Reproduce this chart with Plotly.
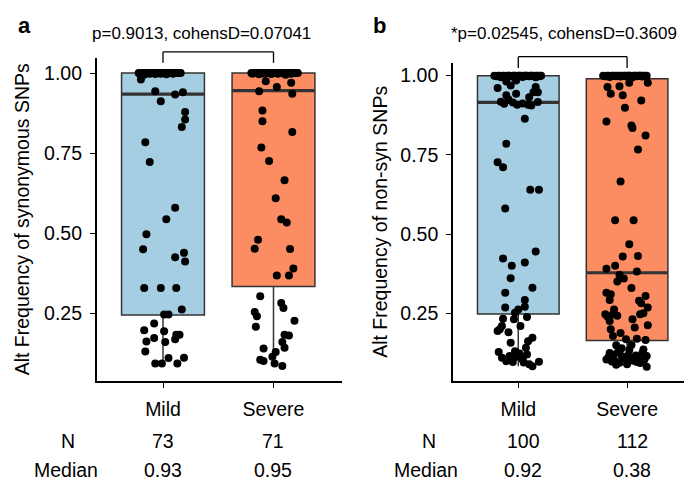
import plotly.graph_objects as go

# ---------------- data ----------------
categories = ["Mild", "Severe"]

# panel a: synonymous SNPs
a_title = "p=0.9013, cohensD=0.07041"
a_ytitle = "Alt Frequency of synonymous SNPs"
a_n = [73, 71]
a_median_label = ["0.93", "0.95"]
a_q1 = [0.244, 0.333]
a_median = [0.934, 0.945]
a_q3 = [1.0, 1.0]
a_low = [0.092, 0.084]
a_high = [1.0, 1.0]

a_mild_x = [-0.20, -0.07, -0.02, 0.11, 0.18, 0.20, 0.20, 0.17, -0.16, -0.12, 0.11, 0.03,
            -0.15, -0.18, 0.11, 0.19, 0.20, -0.17, -0.02, 0.12, 0.17, 0.01, 0.05, -0.08,
            -0.17, 0.01, 0.12, 0.15, -0.08, -0.15, 0.02, 0.11, -0.16, -0.07, -0.01, 0.05,
            0.13, 0.19,
            -0.22, -0.21, -0.19, -0.18, -0.17, -0.15, -0.14, -0.13, -0.12, -0.10, -0.09,
            -0.08, -0.07, -0.06, -0.05, -0.04, -0.03, -0.02, -0.01, 0.00, 0.01, 0.02, 0.03,
            0.04, 0.05, 0.06, 0.07, 0.08, 0.09, 0.10, 0.11, 0.12, 0.13, 0.15, 0.16]
a_mild_y = [0.980, 0.943, 0.912, 0.933, 0.940, 0.878, 0.855, 0.831, 0.784, 0.722, 0.579, 0.543,
            0.496, 0.449, 0.424, 0.438, 0.411, 0.328, 0.328, 0.328, 0.261, 0.245, 0.245, 0.217,
            0.196, 0.193, 0.182, 0.182, 0.172, 0.161, 0.159, 0.168, 0.130, 0.092, 0.092, 0.109,
            0.092, 0.110,
            1.0, 0.998, 1.0, 1.0, 0.995, 1.0, 1.0, 1.0, 0.998, 1.0, 1.0,
            1.0, 0.997, 1.0, 1.0, 1.0, 1.0, 0.998, 1.0, 1.0, 1.0, 1.0, 0.996,
            1.0, 1.0, 1.0, 1.0, 1.0, 0.998, 1.0, 1.0, 1.0, 1.0, 1.0, 1.0]

a_sev_x = [-0.07, 0.03, 0.16, -0.13, 0.17, -0.10, -0.10, 0.17, -0.11, -0.04, 0.10, 0.02,
           0.07, 0.12, -0.14, -0.17, 0.15, 0.18, 0.03, 0.14, -0.12, 0.07, 0.09, -0.17,
           -0.15, 0.19, -0.16, 0.10, 0.14, 0.08, 0.10, -0.09, 0.02, -0.01, -0.12, -0.09,
           0.01, 0.08,
           -0.20, -0.19, -0.17, -0.16, -0.14, -0.13, -0.12, -0.10, -0.09, -0.08, -0.06,
           -0.05, -0.03, -0.02, 0.00, 0.01, 0.02, 0.04, 0.05, 0.06, 0.08, 0.09, 0.11,
           0.12, 0.14, 0.15, 0.16, 0.18, 0.19, 0.20, 0.22]
a_sev_y = [0.974, 0.956, 0.970, 0.943, 0.935, 0.883, 0.849, 0.816, 0.767, 0.725, 0.665, 0.609,
           0.543, 0.533, 0.479, 0.451, 0.450, 0.389, 0.367, 0.367, 0.302, 0.281, 0.266, 0.253,
           0.240, 0.226, 0.207, 0.182, 0.180, 0.159, 0.141, 0.139, 0.128, 0.113, 0.104, 0.100,
           0.092, 0.084,
           1.0, 0.998, 1.0, 1.0, 1.0, 0.996, 1.0, 1.0, 1.0, 0.998, 1.0,
           1.0, 1.0, 0.997, 1.0, 1.0, 1.0, 0.998, 1.0, 1.0, 1.0, 1.0, 0.995,
           1.0, 1.0, 1.0, 0.998, 1.0, 1.0, 1.0, 1.0]

# panel b: non-synonymous SNPs
b_title = "*p=0.02545, cohensD=0.3609"
b_ytitle = "Alt Frequency of non-syn SNPs"
b_n = [100, 112]
b_median_label = ["0.92", "0.38"]
b_q1 = [0.248, 0.164]
b_median = [0.916, 0.378]
b_q3 = [1.0, 0.99]
b_low = [0.083, 0.081]
b_high = [1.0, 1.0]

b_mild_x = [-0.19, -0.11, -0.02, 0.16, 0.18, -0.11, -0.02, -0.09, 0.10, -0.13, -0.01, 0.09,
            0.18, 0.14, -0.07,
            0.06, -0.11, -0.19, -0.14, 0.11, 0.19, -0.12,
            0.16, -0.14, -0.06, 0.06, -0.07, 0.13, -0.12, 0.06, 0.06, -0.12,
            -0.14, -0.15, -0.03, -0.04, 0.02, -0.19, -0.17, 0.13, 0.09, -0.07, 0.07, -0.18,
            0.01, -0.02, -0.11, 0.04, -0.05, 0.10, 0.13, 0.19, -0.15, -0.08,
            -0.10, 0.05, -0.03, 0.08, -0.05, 0.04, 0.12, -0.16, 0.00, 0.08, -0.09,
            -0.22, -0.20, -0.19, -0.17, -0.16, -0.14, -0.13, -0.12, -0.10, -0.09, -0.08,
            -0.06, -0.05, -0.04, -0.03, -0.01, 0.00, 0.01, 0.02, 0.04, 0.05, 0.06, 0.07,
            0.08, 0.10, 0.11, 0.12, 0.13, 0.15, 0.16, 0.17, 0.18, 0.19, 0.20, 0.21]
b_mild_y = [0.961, 0.982, 0.985, 0.964, 0.948, 0.938, 0.943, 0.925, 0.932, 0.911, 0.908, 0.908,
            0.917, 0.948, 0.969,
            0.864, 0.785, 0.727, 0.711, 0.640, 0.640, 0.581,
            0.445, 0.423, 0.400, 0.410, 0.361, 0.331, 0.315, 0.292, 0.271, 0.268,
            0.233, 0.210, 0.252, 0.231, 0.210, 0.194, 0.200, 0.173, 0.162, 0.157, 0.141, 0.128,
            0.123, 0.113, 0.099, 0.104, 0.096, 0.089, 0.083, 0.097, 0.110, 0.115,
            0.105, 0.095, 0.130, 0.120, 0.915, 0.912, 0.906, 0.918, 0.262, 0.238, 0.190,
            1.0, 0.998, 1.0, 1.0, 0.995, 1.0, 1.0, 0.998, 1.0, 1.0, 1.0,
            0.997, 1.0, 1.0, 1.0, 0.998, 1.0, 1.0, 1.0, 0.996, 1.0, 1.0, 1.0,
            1.0, 0.998, 1.0, 1.0, 1.0, 1.0, 0.995, 1.0, 1.0, 0.998, 1.0, 1.0]

b_sev_x = [0.19, -0.18, -0.07, 0.02, -0.15, -0.04, 0.13, -0.02, -0.19, 0.04, 0.05, 0.17, 0.10,
           -0.06, -0.11, 0.06, 0.02, 0.10, -0.04, -0.19, -0.11, 0.09, -0.07, -0.03,
           -0.19, -0.16, 0.17, 0.13, 0.19, -0.20, -0.13, -0.09, -0.16, 0.12, 0.05, 0.19,
           -0.15, -0.13, -0.01, 0.09, 0.17, -0.10, 0.15, -0.16, 0.02, -0.05, -0.19, -0.11,
           0.02, 0.10, 0.18, 0.00, 0.18, -0.07, 0.09,
           -0.12, -0.03, 0.06, 0.12, -0.08, 0.14, -0.17, 0.04, -0.14, 0.08, -0.05, 0.16,
           -0.10, 0.01,
           -0.18, -0.12, 0.15, 0.07, -0.06, 0.11, -0.15, 0.04, -0.09,
           -0.22, -0.20, -0.19, -0.17, -0.16, -0.14, -0.13, -0.11, -0.10, -0.09, -0.07,
           -0.06, -0.05, -0.03, -0.02, -0.01, 0.00, 0.01, 0.02, 0.03, 0.05, 0.06, 0.07,
           0.08, 0.09, 0.10, 0.11, 0.12, 0.13, 0.14, 0.15, 0.16, 0.18, 0.19]
b_sev_y = [0.978, 0.964, 0.967, 0.978, 0.943, 0.938, 0.922, 0.899, 0.855, 0.843, 0.835, 0.811, 0.767,
           0.666, 0.544, 0.544, 0.468, 0.431, 0.429, 0.391, 0.400, 0.382, 0.372, 0.360,
           0.315, 0.292, 0.305, 0.282, 0.268, 0.247, 0.247, 0.242, 0.226, 0.247, 0.231, 0.212,
           0.200, 0.178, 0.168, 0.170, 0.166, 0.149, 0.136, 0.125, 0.134, 0.115, 0.104, 0.099,
           0.104, 0.110, 0.115, 0.089, 0.081, 0.094, 0.096,
           0.120, 0.108, 0.100, 0.093, 0.130, 0.125, 0.112, 0.150, 0.098, 0.117, 0.140, 0.104,
           0.088, 0.118,
           0.240, 0.262, 0.250, 0.205, 0.188, 0.290, 0.310, 0.330, 0.350,
           1.0, 0.998, 1.0, 1.0, 0.996, 1.0, 1.0, 1.0, 0.998, 1.0, 1.0,
           0.997, 1.0, 1.0, 1.0, 0.998, 1.0, 1.0, 1.0, 1.0, 0.995, 1.0, 1.0,
           1.0, 0.998, 1.0, 1.0, 1.0, 1.0, 0.997, 1.0, 1.0, 1.0]

ytick_vals = [0.25, 0.50, 0.75, 1.00]
ytick_text = ["0.25", "0.50", "0.75", "1.00"]

# ---------------- style ----------------
FONT = "Liberation Sans, Arial, sans-serif"
FS = 19.5
FILL = ["#a6cee3", "#fc8d62"]
EDGE = "#333333"
BOXW = 0.75
W, H = 684, 482

def px_x(p):
    return p / W

def px_y(p):
    return 1 - p / H

panels = [
    dict(xa="x", ya="y", xdom=[px_x(96.7), px_x(342)], ydom=[px_y(380.7), px_y(58)],
         xr=[-0.6, 1.62], yr=[0.0384, 1.047],
         q1=a_q1, med=a_median, q3=a_q3, lo=a_low, hi=a_high,
         pts=[(a_mild_x, a_mild_y), (a_sev_x, a_sev_y)],
         title=a_title, ytitle=a_ytitle, n=a_n, medlab=a_median_label,
         letter="a", letter_x=px_x(24), title_x=px_x(90), ytitle_x=px_x(22),
         nlab_x=px_x(68), medlab_x=px_x(66), tshift=0,
         br_top=1.066, br_tip=1.032),
    dict(xa="x2", ya="y2", xdom=[px_x(453), 1.0], ydom=[px_y(380.7), px_y(63)],
         xr=[-0.6, 1.523], yr=[0.0373, 1.040],
         q1=b_q1, med=b_median, q3=b_q3, lo=b_low, hi=b_high,
         pts=[(b_mild_x, b_mild_y), (b_sev_x, b_sev_y)],
         title=b_title, ytitle=b_ytitle, n=b_n, medlab=b_median_label,
         letter="b", letter_x=px_x(379), title_x=px_x(449), ytitle_x=px_x(380),
         nlab_x=px_x(428.7), medlab_x=px_x(425.5), tshift=5,
         br_top=1.06, br_tip=1.024),
]

fig = go.Figure()
annotations = []
shapes = []

for pi, p in enumerate(panels):
    # boxes
    for ci in range(len(categories)):
        fig.add_trace(go.Box(
            x=[ci], q1=[p["q1"][ci]], median=[p["med"][ci]], q3=[p["q3"][ci]],
            lowerfence=[p["lo"][ci]], upperfence=[p["hi"][ci]],
            width=BOXW, whiskerwidth=0, fillcolor=FILL[ci],
            line=dict(color=EDGE, width=1.5), boxpoints=False,
            xaxis=p["xa"], yaxis=p["ya"], showlegend=False, hoverinfo="skip"))
    # thick median lines
    for ci in range(len(categories)):
        fig.add_trace(go.Scatter(
            x=[ci - BOXW / 2, ci + BOXW / 2], y=[p["med"][ci]] * 2, mode="lines",
            line=dict(color=EDGE, width=3.2), xaxis=p["xa"], yaxis=p["ya"],
            showlegend=False, hoverinfo="skip"))
    # jittered points
    for ci, (jx, vy) in enumerate(p["pts"]):
        fig.add_trace(go.Scatter(
            x=[ci + d for d in jx], y=vy, mode="markers",
            marker=dict(color="black", size=8, line=dict(width=0)),
            xaxis=p["xa"], yaxis=p["ya"], showlegend=False, cliponaxis=False))

    # bracket (y in paper coords converted from data values)
    def yp(v, p=p):
        return p["ydom"][0] + (v - p["yr"][0]) / (p["yr"][1] - p["yr"][0]) * (p["ydom"][1] - p["ydom"][0])
    ln = dict(color="black", width=1.3)
    shapes.append(dict(type="line", xref=p["xa"], yref="paper", x0=0, x1=1,
                       y0=yp(p["br_top"]), y1=yp(p["br_top"]), line=ln))
    for ci in range(len(categories)):
        shapes.append(dict(type="line", xref=p["xa"], yref="paper", x0=ci, x1=ci,
                           y0=yp(p["br_tip"]), y1=yp(p["br_top"]), line=ln))

    # title
    annotations.append(dict(text=p["title"], xref="paper", yref="paper", x=p["title_x"],
                            y=px_y(34), xanchor="left", yanchor="middle",
                            showarrow=False, font=dict(family=FONT, size=17, color="black")))
    # panel letter
    annotations.append(dict(text="<b>%s</b>" % p["letter"], xref="paper", yref="paper",
                            x=p["letter_x"], y=px_y(25), xanchor="center", yanchor="middle",
                            showarrow=False, font=dict(family=FONT, size=22, color="black")))
    # y title
    annotations.append(dict(text=p["ytitle"], xref="paper", yref="paper", x=p["ytitle_x"],
                            y=(p["ydom"][0] + p["ydom"][1]) / 2, textangle=-90,
                            xanchor="center", yanchor="middle", showarrow=False,
                            font=dict(family=FONT, size=FS, color="black")))
    # N / Median table
    annotations.append(dict(text="N", xref="paper", yref="paper", x=p["nlab_x"], y=px_y(441),
                            xanchor="center", yanchor="middle", showarrow=False,
                            font=dict(family=FONT, size=FS, color="black")))
    annotations.append(dict(text="Median", xref="paper", yref="paper", x=p["medlab_x"], y=px_y(470),
                            xanchor="center", yanchor="middle", showarrow=False,
                            font=dict(family=FONT, size=FS, color="black")))
    for ci in range(len(categories)):
        annotations.append(dict(text=str(p["n"][ci]), xref=p["xa"], yref="paper", x=ci,
                                y=px_y(441), xanchor="center", yanchor="middle",
                                xshift=p["tshift"], showarrow=False,
                                font=dict(family=FONT, size=FS, color="black")))
        annotations.append(dict(text=p["medlab"][ci], xref=p["xa"], yref="paper", x=ci,
                                y=px_y(470), xanchor="center", yanchor="middle",
                                xshift=p["tshift"], showarrow=False,
                                font=dict(family=FONT, size=FS, color="black")))

axis_common = dict(showline=True, linecolor="black", linewidth=1.6, ticks="outside",
                   ticklen=5, tickwidth=1.4, tickcolor="black", showgrid=False,
                   zeroline=False, tickfont=dict(family=FONT, size=FS, color="black"))

layout = dict(
    width=W, height=H, margin=dict(l=0, r=0, t=0, b=0),
    plot_bgcolor="white", paper_bgcolor="white", showlegend=False,
    annotations=annotations, shapes=shapes,
)
for pi, p in enumerate(panels):
    sfx = "" if pi == 0 else "2"
    layout["xaxis" + sfx] = dict(axis_common, domain=p["xdom"], range=p["xr"],
                                 tickvals=list(range(len(categories))), ticktext=categories,
                                 anchor=p["ya"], ticklabelstandoff=5)
    layout["yaxis" + sfx] = dict(axis_common, domain=p["ydom"], range=p["yr"],
                                 tickvals=ytick_vals, ticktext=ytick_text,
                                 anchor=p["xa"], ticklabelstandoff=4)

fig.update_layout(**layout)
fig.write_html("out.html", config={"displayModeBar": False},
               post_script="document.body.style.margin='0';document.body.style.overflow='hidden';")
